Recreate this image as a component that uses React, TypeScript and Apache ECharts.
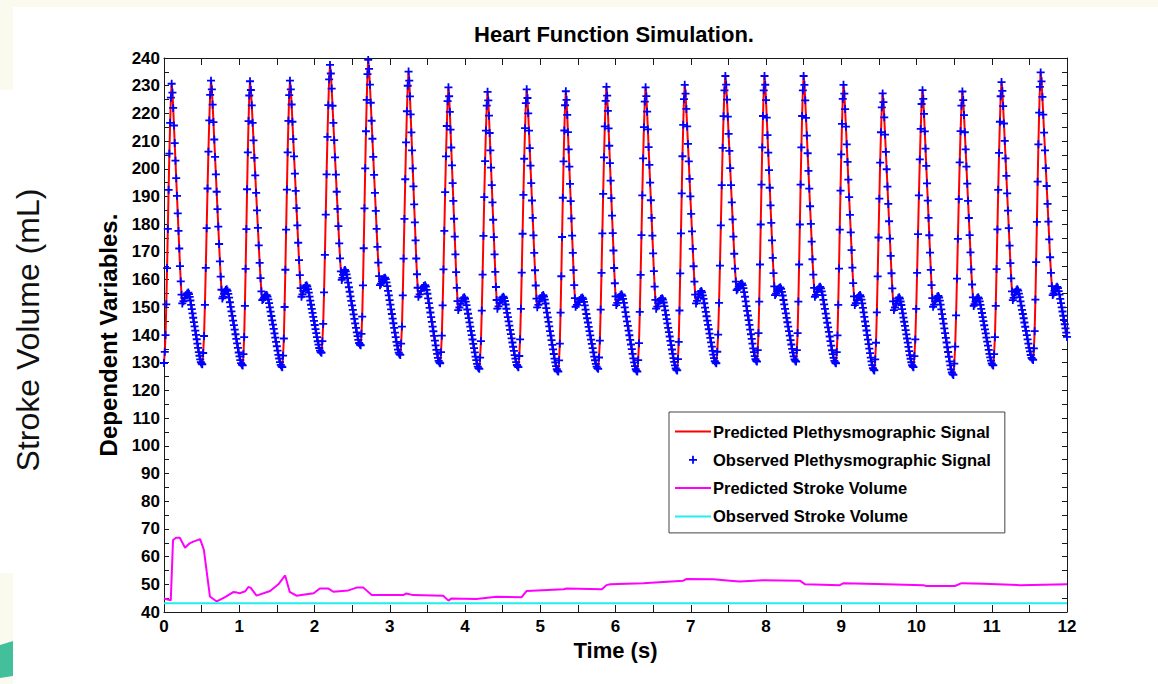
import React, { useEffect, useRef } from "react";
import * as echarts from "echarts";

// ---- Plethysmographic signal: key points of each heart cycle ----
const troughT = [0.0, 0.509, 1.046, 1.572, 2.093, 2.614, 3.14, 3.67, 4.19, 4.71, 5.24, 5.77, 6.29, 6.82, 7.34, 7.88, 8.4, 8.93, 9.44, 9.96, 10.49, 11.02, 11.55];
const troughV = [129.9, 129.4, 129.0, 128.4, 133.6, 136.3, 132.8, 129.8, 127.8, 128.4, 126.8, 127.8, 126.8, 127.2, 129.8, 130.4, 130.4, 129.8, 127.2, 128.4, 125.6, 129.0, 131.0];
const peakT = [0.102, 0.625, 1.143, 1.674, 2.206, 2.714, 3.25, 3.78, 4.3, 4.82, 5.34, 5.88, 6.4, 6.92, 7.46, 7.98, 8.5, 9.03, 9.55, 10.08, 10.61, 11.13, 11.65];
const peakV = [230.7, 231.8, 231.6, 231.8, 237.5, 239.3, 235.1, 229.4, 227.8, 228.7, 228.0, 229.6, 229.4, 230.3, 233.5, 233.5, 233.5, 230.3, 227.2, 228.4, 227.9, 231.3, 234.8];
const notchT = [0.243, 0.775, 1.306, 1.827, 2.362, 2.87, 3.38, 3.91, 4.43, 4.96, 5.47, 6.01, 6.54, 7.07, 7.61, 8.12, 8.65, 9.18, 9.7, 10.22, 10.76, 11.28, 11.81];
const notchV = [151.4, 153.2, 152.6, 153.8, 159.9, 158.0, 153.8, 149.0, 149.5, 150.0, 150.2, 150.8, 149.5, 151.4, 156.2, 154.4, 153.8, 150.8, 149.0, 150.2, 150.5, 152.6, 154.4];
const bumpT = [0.323, 0.833, 1.365, 1.894, 2.405, 2.937, 3.47, 3.99, 4.51, 5.04, 5.56, 6.08, 6.62, 7.14, 7.68, 8.19, 8.72, 9.25, 9.77, 10.29, 10.82, 11.34, 11.87];
const bumpV = [155.3, 156.5, 154.4, 158.0, 163.5, 160.7, 158.0, 153.6, 153.8, 154.4, 153.5, 154.7, 153.3, 155.9, 158.6, 157.2, 157.4, 154.4, 153.6, 154.1, 153.6, 156.5, 157.4];
const endT = 12.0;
const endV = 139.3;

// Shape of each phase of a cycle (fraction of the way between key points)
const riseShape = [0, 0.04, 0.1, 0.21, 0.34, 0.48, 0.62, 0.75, 0.86, 0.95, 1];
const fallShape = [0, 0.04, 0.11, 0.19, 0.27, 0.35, 0.43, 0.51, 0.59, 0.67, 0.75, 0.83, 0.9, 0.96, 1];
const bumpShape = [0, 0.2, 0.5, 0.75, 0.92, 1];
const declineShape = [0, 0.02, 0.06, 0.11, 0.17, 0.23, 0.29, 0.35, 0.41, 0.47, 0.53, 0.59, 0.65, 0.71, 0.77, 0.83, 0.88, 0.93, 0.97, 0.99, 1];

// ---- Stroke volume ----
const predictedSV: [number, number][] = [
  [0, 44.9], [0.09, 44.2], [0.12, 66.0], [0.16, 66.8], [0.21, 66.8], [0.28, 63.2], [0.34, 64.8], [0.39, 65.4],
  [0.48, 66.3], [0.53, 62.4], [0.61, 45.6], [0.7, 43.8], [0.8, 45.2], [0.92, 47.2], [0.97, 47.0], [1.01, 46.8],
  [1.08, 47.5], [1.12, 49.0], [1.15, 48.8], [1.23, 45.9], [1.41, 47.6], [1.52, 50.0], [1.61, 53.2], [1.67, 47.3],
  [1.76, 45.9], [1.99, 46.8], [2.07, 48.5], [2.18, 48.5], [2.25, 47.3], [2.45, 47.8], [2.56, 48.8], [2.65, 48.8],
  [2.76, 46.1], [3.18, 46.1], [3.22, 46.7], [3.31, 46.1], [3.71, 45.9], [3.78, 44.1], [3.82, 44.9], [4.15, 44.7],
  [4.42, 45.5], [4.75, 45.3], [4.82, 47.6], [5.31, 48.2], [5.35, 48.5], [5.82, 48.2], [5.88, 49.7], [5.93, 50.0],
  [6.37, 50.4], [6.9, 51.3], [6.94, 51.9], [7.3, 51.8], [7.52, 51.3], [7.65, 51.0], [7.96, 51.5], [8.45, 51.3],
  [8.52, 50.0], [8.98, 49.7], [9.03, 50.4], [9.47, 50.1], [10.09, 49.7], [10.13, 49.4], [10.51, 49.4], [10.6, 50.4],
  [10.89, 50.2], [11.38, 49.7], [12.0, 50.0],
];
const observedSVValue = 43.2;
const timeRange = [0, 12];

const seriesNames = [
  "Predicted Plethysmographic Signal",
  "Observed Plethysmographic Signal",
  "Predicted Stroke Volume",
  "Observed Stroke Volume",
];

const FONT = "'Liberation Sans', Arial, Helvetica, sans-serif";
const PLUS = "path://M3.1,0H4.9V3.1H8V4.9H4.9V8H3.1V4.9H0V3.1H3.1Z";
const LEGEND_LINE = "path://M0,0H36V2H0Z";

function buildSignal(): [number, number][] {
  const pts: [number, number][] = [];
  const seg = (t0: number, v0: number, t1: number, v1: number, shape: number[], skipFirst: boolean) => {
    const n = shape.length - 1;
    for (let i = skipFirst ? 1 : 0; i <= n; i++) {
      pts.push([t0 + ((t1 - t0) * i) / n, v0 + (v1 - v0) * shape[i]]);
    }
  };
  const partial = declineShape.slice(0, 14).map((s) => s / declineShape[13]);
  const last = troughT.length - 1;
  for (let c = 0; c <= last; c++) {
    seg(troughT[c], troughV[c], peakT[c], peakV[c], riseShape, c > 0);
    seg(peakT[c], peakV[c], notchT[c], notchV[c], fallShape, true);
    seg(notchT[c], notchV[c], bumpT[c], bumpV[c], bumpShape, true);
    if (c < last) seg(bumpT[c], bumpV[c], troughT[c + 1], troughV[c + 1], declineShape, true);
    else seg(bumpT[c], bumpV[c], endT, endV, partial, true);
  }
  return pts;
}

export default function App() {
  const ref = useRef<HTMLDivElement>(null);
  useEffect(() => {
    if (!ref.current) return;
    const chart = echarts.init(ref.current, null, { renderer: "svg" });
    const signal = buildSignal();
    const axisCommon = {
      type: "value" as const,
      axisLine: { show: true, onZero: false, lineStyle: { color: "#1a1a1a", width: 1 } },
      splitLine: { show: false },
    };
    const labelStyle = { color: "#000", fontSize: 17, fontWeight: "bold" as const, fontFamily: FONT };
    chart.setOption({
      animation: false,
      backgroundColor: "#ffffff",
      title: {
        text: "Heart Function Simulation.",
        left: 614,
        top: 23,
        padding: 0,
        textAlign: "center",
        textStyle: { color: "#000", fontSize: 22, fontWeight: "bold", fontFamily: FONT },
      },
      grid: { left: 164, right: 91, top: 58, bottom: 72, containLabel: false },
      legend: {
        orient: "vertical",
        left: 669,
        top: 412,
        padding: [11, 14, 8, 6],
        itemWidth: 36,
        itemHeight: 8,
        itemGap: 11.3,
        selectedMode: false,
        backgroundColor: "#fff",
        borderColor: "#444",
        borderWidth: 1,
        borderRadius: 0,
        textStyle: { color: "#000", fontSize: 16.5, fontWeight: "bold", fontFamily: FONT, padding: [0, 0, 0, -3] },
        data: [
          { name: seriesNames[0], icon: LEGEND_LINE },
          { name: seriesNames[1], icon: PLUS },
          { name: seriesNames[2], icon: LEGEND_LINE },
          { name: seriesNames[3], icon: LEGEND_LINE },
        ],
      },
      xAxis: [
        {
          ...axisCommon,
          position: "bottom",
          min: timeRange[0],
          max: timeRange[1],
          interval: 0.5,
          name: "Time (s)",
          nameLocation: "middle",
          nameGap: 27,
          nameTextStyle: { color: "#000", fontSize: 22, fontWeight: "bold", fontFamily: FONT },
          axisTick: { show: true, inside: true, length: 7, lineStyle: { color: "#1a1a1a" } },
          axisLabel: {
            ...labelStyle,
            margin: 6,
            formatter: (v: number) => (Number.isInteger(v) ? String(v) : ""),
          },
        },
        {
          ...axisCommon,
          position: "top",
          min: timeRange[0],
          max: timeRange[1],
          interval: 0.5,
          axisTick: { show: true, inside: true, length: 7, lineStyle: { color: "#1a1a1a" } },
          axisLabel: { show: false },
        },
      ],
      yAxis: [
        {
          ...axisCommon,
          position: "left",
          min: 40,
          max: 240,
          interval: 5,
          name: "Dependent Variables.",
          nameLocation: "middle",
          nameRotate: 90,
          nameGap: 30,
          nameTextStyle: { color: "#000", fontSize: 24, fontWeight: "bold", fontFamily: FONT },
          axisTick: { show: true, inside: true, length: 5, lineStyle: { color: "#1a1a1a" } },
          axisLabel: {
            ...labelStyle,
            margin: 4,
            formatter: (v: number) => (v % 10 === 0 ? String(v) : ""),
          },
        },
        {
          ...axisCommon,
          position: "right",
          min: 40,
          max: 240,
          interval: 5,
          axisTick: { show: true, inside: true, length: 5, lineStyle: { color: "#1a1a1a" } },
          axisLabel: { show: false },
        },
      ],
      series: [
        {
          name: seriesNames[0],
          type: "line",
          data: signal,
          symbol: "none",
          showSymbol: false,
          lineStyle: { color: "#ff0000", width: 2 },
          itemStyle: { color: "#ff0000" },
          z: 2,
        },
        {
          name: seriesNames[1],
          type: "scatter",
          data: signal,
          symbol: PLUS,
          symbolSize: 8,
          itemStyle: { color: "#0000ff", opacity: 1 },
          z: 3,
        },
        {
          name: seriesNames[2],
          type: "line",
          data: predictedSV,
          symbol: "none",
          showSymbol: false,
          lineStyle: { color: "#ff00ff", width: 2 },
          itemStyle: { color: "#ff00ff" },
          z: 4,
        },
        {
          name: seriesNames[3],
          type: "line",
          data: [
            [timeRange[0], observedSVValue],
            [timeRange[1], observedSVValue],
          ],
          symbol: "none",
          showSymbol: false,
          lineStyle: { color: "#22eeee", width: 2 },
          itemStyle: { color: "#22eeee" },
          z: 4,
        },
      ],
      graphic: [
        { type: "rect", shape: { x: 0, y: 0, width: 1158, height: 7 }, style: { fill: "#fafaee" }, silent: true },
        { type: "rect", shape: { x: 0, y: 0, width: 13, height: 90 }, style: { fill: "#fafaee" }, silent: true },
        { type: "rect", shape: { x: 0, y: 573, width: 13, height: 111 }, style: { fill: "#fafaee" }, silent: true },
        {
          type: "polygon",
          shape: { points: [[0, 645], [13, 641], [13, 676], [0, 678]] },
          style: { fill: "#44bf9c" },
          silent: true,
        },
        {
          type: "text",
          x: 28,
          y: 330,
          rotation: Math.PI / 2,
          silent: true,
          style: {
            text: "Stroke Volume (mL)",
            fontSize: 32,
            fontFamily: FONT,
            fill: "#111",
            align: "center",
            verticalAlign: "middle",
            textAlign: "center",
            textVerticalAlign: "middle",
          },
        },
      ],
    });
    return () => chart.dispose();
  }, []);
  return (
    <div
      ref={ref}
      style={{ position: "fixed", left: 0, top: 0, width: 1158, height: 684, background: "#fff" }}
    />
  );
}
